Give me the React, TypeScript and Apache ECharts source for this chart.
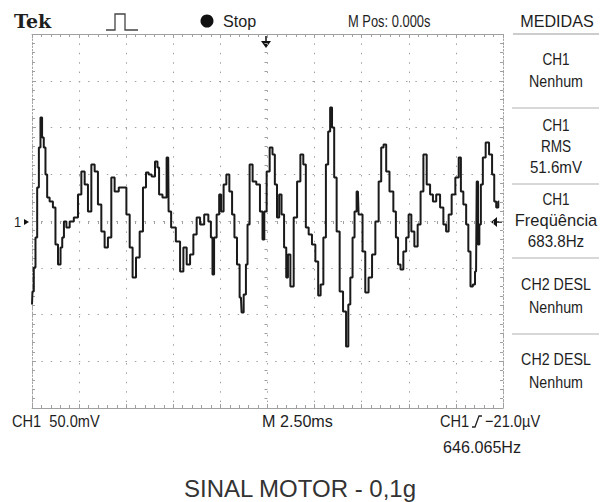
import React, { useEffect, useRef } from "react";
import * as echarts from "echarts";

// Time (ms, relative to trigger at screen centre) and CH1 voltage (mV)
const timeMs = [
  -12.5, -12.45, -12.36, -12.27, -12.18, -12.09, -12.01, -11.92, -11.83, -11.74,
  -11.65, -11.48, -11.3, -11.21, -11.03, -10.94, -10.85, -10.76, -10.59, -10.41,
  -10.15, -9.97, -9.79, -9.62, -9.44, -9.26, -9.09, -8.91, -8.73, -8.56,
  -8.38, -8.2, -8.03, -7.76, -7.58, -7.4, -7.23, -7.09, -6.87, -6.7,
  -6.52, -6.38, -6.24, -6.06, -5.88, -5.8, -5.71, -5.44, -5.27, -5.23,
  -5.0, -4.73, -4.55, -4.38, -4.2, -4.02, -3.85, -3.67, -3.49, -3.23,
  -3.05, -2.96, -2.88, -2.79, -2.61, -2.52, -2.4, -2.26, -2.11, -1.94,
  -1.82, -1.69, -1.55, -1.41, -1.34, -1.19, -1.1, -1.02, -0.88, -0.7,
  -0.49, -0.31, -0.22, -0.12, 0.03, 0.2, 0.33, 0.45, 0.56, 0.68,
  0.81, 0.95, 1.04, 1.13, 1.3, 1.48, 1.66, 1.83, 1.97, 2.1,
  2.27, 2.45, 2.63, 2.75, 2.89, 3.04, 3.16, 3.28, 3.37, 3.48,
  3.6, 3.74, 3.92, 4.1, 4.24, 4.34, 4.45, 4.58, 4.66, 4.8,
  4.87, 4.98, 5.11, 5.27, 5.46, 5.64, 5.81, 5.99, 6.08, 6.24,
  6.36, 6.59, 6.77, 6.86, 7.0, 7.12, 7.3, 7.42, 7.56, 7.71,
  7.88, 8.06, 8.19, 8.36, 8.54, 8.72, 8.84, 9.07, 9.25, 9.42,
  9.54, 9.69, 9.86, 10.08, 10.22, 10.31, 10.48, 10.61, 10.71, 10.84,
  10.96, 11.07, 11.14, 11.21, 11.28, 11.37, 11.49, 11.67, 11.85, 11.99,
  12.08, 12.2, 12.3,
];

const ch1mV = [
  -89.3, -75.4, -49.7, -17.6, 35.8, 78.6, 110.7, 89.3, 78.6, 49.7,
  25.1, 20.9, 14.4, -25.1, -46.5, -28.3, -17.6, -0.5, -7.0, -0.5,
  3.7, 28.3, 52.9, 39.0, 10.2, 60.4, 52.9, 17.6, -11.2, -28.3,
  -17.6, 46.5, 31.6, 35.8, 35.8, 7.0, -28.3, -60.4, -39.0, -11.2,
  35.8, 51.9, 49.7, 47.6, 63.6, 57.2, 28.3, 25.1, 67.9, 10.2,
  -7.0, -21.9, -54.0, -28.3, -46.5, -35.8, -14.4, 3.7, -3.7, 7.0,
  -0.5, -17.6, -57.2, -17.6, 7.0, 28.3, 10.2, 39.0, 49.7, 31.6,
  7.0, -17.6, -46.5, -81.8, -97.9, -78.6, -46.5, -3.7, 60.4, 42.2,
  39.0, 10.2, -19.8, 10.2, 52.9, 78.6, 71.1, 39.0, 3.7, 28.3,
  7.0, -28.3, -60.4, -35.8, -70.0, 3.7, 42.2, 71.1, 60.4, -7.0,
  -14.4, -25.1, -43.3, -79.7, -67.9, -17.6, 60.4, 95.7, 121.4, 100.0,
  46.5, -11.2, -75.4, -96.8, -134.2, -89.3, -60.4, -17.6, 10.2, 31.6,
  7.0, 7.0, -32.6, -76.5, -60.4, -35.8, -0.5, 42.2, 78.6, 81.8,
  52.9, 31.6, 10.2, -17.6, -46.5, -51.9, -32.6, -17.6, 7.0, -11.2,
  -27.3, -3.7, 31.6, 71.1, 39.0, 28.3, 20.9, 28.3, 14.4, -3.7,
  -11.2, 7.0, 28.3, 46.5, 67.9, 31.6, 17.6, -3.7, -32.6, -70.0,
  -67.9, -54.0, 42.2, -25.1, -3.7, 39.0, 67.9, 83.9, 71.1, 49.7,
  20.9, 14.4, 20.9,
];

const measureLines = [
  ["CH1", "Nenhum"],
  ["CH1", "RMS", "51.6mV"],
  ["CH1", "Freqüência", "683.8Hz"],
  ["CH2 DESL", "Nenhum"],
  ["CH2 DESL", "Nenhum"],
];

const SANS = '"Liberation Sans", Arial, sans-serif';
const TXT = "#1e1e1e";
const GRID = "#a0a0a0";

const panelScale: Record<string, number> = {
  CH1: 0.8,
  Nenhum: 0.84,
  RMS: 0.8,
  "51.6mV": 0.89,
  "Freqüência": 0.97,
  "683.8Hz": 0.89,
  "CH2 DESL": 0.84,
};

function txt(text: string, x: number, y: number, opts: any = {}) {
  return {
    type: "text",
    x,
    y,
    scaleX: opts.scaleX ?? 0.86,
    silent: true,
    style: {
      text,
      x: 0,
      y: 0,
      fill: opts.fill || TXT,
      fontFamily: opts.fontFamily || SANS,
      fontSize: opts.fontSize || 17,
      fontWeight: opts.fontWeight || "normal",
      textAlign: opts.align || "left",
      textVerticalAlign: "middle",
    },
  };
}

export default function App() {
  const ref = useRef<HTMLDivElement>(null);

  useEffect(() => {
    if (!ref.current) return;
    const chart = echarts.init(ref.current, null, { renderer: "svg" });

    const edgeX = (position: "top" | "bottom", split: boolean) => ({
      type: "value",
      min: -12.5,
      max: 12.5,
      interval: 2.5,
      position,
      axisLine: { show: true, onZero: false, lineStyle: { color: GRID, width: 1 } },
      axisTick: { show: true, inside: true, length: 4, lineStyle: { color: GRID } },
      minorTick: { show: true, splitNumber: 5, length: 3, lineStyle: { color: GRID } },
      axisLabel: { show: false },
      splitLine: { show: split, lineStyle: { color: GRID, width: 1, type: [1.5, 7.9] } },
    });
    const edgeY = (position: "left" | "right", split: boolean) => ({
      type: "value",
      min: -200,
      max: 200,
      interval: 50,
      position,
      axisLine: { show: true, onZero: false, lineStyle: { color: GRID, width: 1, type: [1.5, 2] } },
      axisTick: { show: true, inside: true, length: 4, lineStyle: { color: GRID } },
      minorTick: { show: true, splitNumber: 5, length: 3, lineStyle: { color: GRID } },
      axisLabel: { show: false },
      splitLine: { show: split, lineStyle: { color: GRID, width: 1, type: [1.5, 7.85] } },
    });

    const panelGraphics: any[] = [];
    const blockCenters = [70, 146, 220, 296, 371];
    const separators = [108, 184, 258, 334];
    measureLines.forEach((lines, i) => {
      const n = lines.length;
      const step = n === 3 ? 21 : 23;
      lines.forEach((l, j) => {
        panelGraphics.push(
          txt(l, 556, blockCenters[i] + (j - (n - 1) / 2) * step, {
            align: "center",
            scaleX: panelScale[l] ?? 0.86,
          })
        );
      });
    });
    separators.forEach((y) => {
      panelGraphics.push({
        type: "line",
        silent: true,
        shape: { x1: 512, y1: y, x2: 599, y2: y },
        style: { stroke: "#b0b0b0", lineWidth: 1 },
      });
    });

    const option: any = {
      animation: false,
      backgroundColor: "#ffffff",
      grid: { left: 32, right: 97, top: 34, bottom: 94, containLabel: false },
      xAxis: [
        edgeX("bottom", true),
        edgeX("top", false),
        {
          type: "value",
          min: -12.5,
          max: 12.5,
          interval: 2.5,
          position: "bottom",
          axisLine: { show: false, onZero: true },
          axisTick: { show: false },
          minorTick: { show: true, splitNumber: 5, length: 3, lineStyle: { color: GRID } },
          axisLabel: { show: false },
          splitLine: { show: false },
        },
      ],
      yAxis: [
        edgeY("left", true),
        edgeY("right", false),
        {
          type: "value",
          min: -200,
          max: 200,
          interval: 50,
          position: "left",
          axisLine: { show: false, onZero: true },
          axisTick: { show: false },
          minorTick: { show: true, splitNumber: 5, length: 3, lineStyle: { color: GRID } },
          axisLabel: { show: false },
          splitLine: { show: false },
        },
      ],
      series: [
        {
          type: "line",
          xAxisIndex: 0,
          yAxisIndex: 0,
          data: timeMs.map((t, i) => [t, ch1mV[i]]),
          showSymbol: false,
          step: "middle",
          lineStyle: { color: "#1a1a1a", width: 2 },
          z: 5,
        },
      ],
      graphic: [
        txt("Tek", 14, 21, {
          fontFamily: '"DejaVu Serif", serif',
          fontWeight: "bold",
          fontSize: 19,
          scaleX: 1,
        }),
        {
          type: "polyline",
          silent: true,
          shape: { points: [[106, 30], [115, 30], [115, 14], [125, 14], [125, 30], [138, 30]] },
          style: { stroke: "#444", lineWidth: 1.3, fill: null },
        },
        { type: "circle", silent: true, shape: { cx: 207, cy: 21, r: 6.5 }, style: { fill: "#111" } },
        txt("Stop", 223, 21, { scaleX: 0.95 }),
        txt("M Pos: 0.000s", 348, 21, { scaleX: 0.76 }),
        txt("MEDIDAS", 557, 21, { align: "center", scaleX: 0.95 }),
        {
          type: "line",
          silent: true,
          shape: { x1: 513, y1: 34, x2: 599, y2: 34 },
          style: { stroke: "#9a9a9a", lineWidth: 1 },
        },
        // trigger position marker (top)
        {
          type: "line",
          silent: true,
          shape: { x1: 266, y1: 36, x2: 266, y2: 44 },
          style: { stroke: "#111", lineWidth: 1.5 },
        },
        {
          type: "polygon",
          silent: true,
          shape: { points: [[261, 41], [271, 41], [266, 48]] },
          style: { fill: "#111" },
        },
        // channel 1 ground marker
        txt("1", 14, 222, { fontSize: 15 }),
        {
          type: "polygon",
          silent: true,
          shape: { points: [[24, 219], [29, 222], [24, 225]] },
          style: { fill: "#111" },
        },
        // trigger level marker (right)
        {
          type: "polygon",
          silent: true,
          shape: { points: [[491, 222], [497, 217], [497, 227]] },
          style: { fill: "#111" },
        },
        {
          type: "line",
          silent: true,
          shape: { x1: 495, y1: 222, x2: 502, y2: 222 },
          style: { stroke: "#111", lineWidth: 1.5 },
        },
        ...panelGraphics,
        txt("CH1  50.0mV", 12, 421),
        txt("M 2.50ms", 262, 421, { scaleX: 0.95 }),
        txt("CH1", 440, 421),
        {
          type: "polyline",
          silent: true,
          shape: { points: [[472, 427], [475, 427], [479, 416], [482, 416]] },
          style: { stroke: "#222", lineWidth: 1.3, fill: null },
        },
        txt("\u221221.0\u00b5V", 485, 421, { scaleX: 0.86 }),
        txt("646.065Hz", 443, 447, { scaleX: 0.95 }),
        txt("SINAL MOTOR - 0,1g", 300, 488, {
          align: "center",
          fontSize: 24,
          scaleX: 1,
          fill: "#333",
        }),
      ],
    };

    chart.setOption(option);
    return () => chart.dispose();
  }, []);

  return (
    <div
      ref={ref}
      style={{ position: "absolute", left: 0, top: 0, width: 600, height: 502 }}
    />
  );
}
